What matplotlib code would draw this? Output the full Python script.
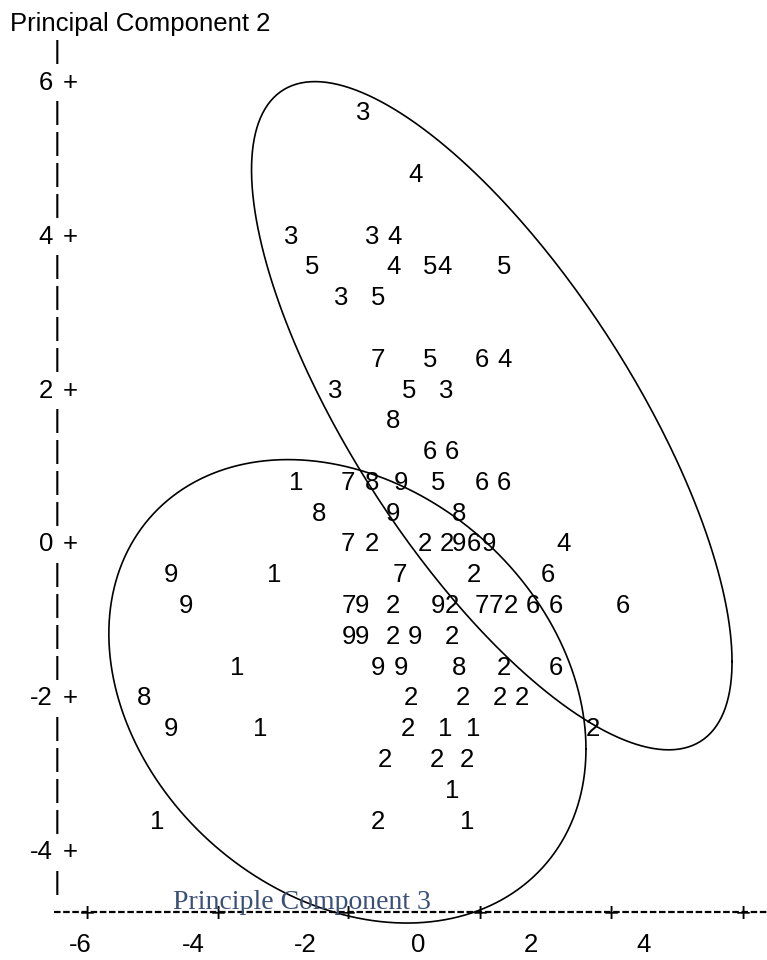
#recreate a text-style PCA score plot (PC3 vs PC2) with two cluster ellipses
import numpy as np
import matplotlib.pyplot as plt

plt.rcParams['lines.scale_dashes'] = False

cluster = ['3',
           '4',
           '3', '3', '4',
           '5', '4', '5', '4', '5',
           '3', '5',
           '7', '5', '6', '4',
           '3', '5', '3',
           '8',
           '6', '6',
           '1', '7', '8', '9', '5', '6', '6',
           '8', '9', '8',
           '7', '2', '2', '2', '9', '6', '9', '4',
           '9', '1', '7', '2', '6',
           '9', '7', '9', '2', '9', '2', '7', '7', '2', '6', '6', '6',
           '9', '9', '2', '9', '2',
           '1', '9', '9', '8', '2', '6',
           '8', '2', '2', '2', '2',
           '9', '1', '2', '1', '1', '2',
           '2', '2', '2',
           '1',
           '1', '2', '1']
pc3 = [-0.98,
       -0.06,
       -2.26, -0.82, -0.43,
       -1.89, -0.45, 0.21, 0.47, 1.52,
       -1.37, -0.72,
       -0.72, 0.21, 1.13, 1.52,
       -1.48, -0.17, 0.49,
       -0.45,
       0.21, 0.60,
       -2.16, -1.25, -0.82, -0.31, 0.35, 1.13, 1.52,
       -1.76, -0.45, 0.72,
       -1.25, -0.82, 0.12, 0.51, 0.72, 0.99, 1.25, 2.58,
       -4.39, -2.56, -0.33, 0.99, 2.30,
       -4.12, -1.23, -1.00, -0.45, 0.35, 0.60, 1.13, 1.38, 1.64, 2.03, 2.44, 3.63,
       -1.23, -1.00, -0.45, -0.06, 0.60,
       -3.22, -0.72, -0.31, 0.72, 1.52, 2.44,
       -4.87, -0.13, 0.79, 1.45, 1.84,
       -4.39, -2.81, -0.18, 0.47, 0.97, 3.10,
       -0.59, 0.33, 0.86,
       0.60,
       -4.64, -0.72, 0.86]
pc2 = [5.6,
       4.8,
       4.0, 4.0, 4.0,
       3.6, 3.6, 3.6, 3.6, 3.6,
       3.2, 3.2,
       2.4, 2.4, 2.4, 2.4,
       2.0, 2.0, 2.0,
       1.6,
       1.2, 1.2,
       0.8, 0.8, 0.8, 0.8, 0.8, 0.8, 0.8,
       0.4, 0.4, 0.4,
       0.0, 0.0, 0.0, 0.0, 0.0, 0.0, 0.0, 0.0,
       -0.4, -0.4, -0.4, -0.4, -0.4,
       -0.8, -0.8, -0.8, -0.8, -0.8, -0.8, -0.8, -0.8, -0.8, -0.8, -0.8, -0.8,
       -1.2, -1.2, -1.2, -1.2, -1.2,
       -1.6, -1.6, -1.6, -1.6, -1.6, -1.6,
       -2.0, -2.0, -2.0, -2.0, -2.0,
       -2.4, -2.4, -2.4, -2.4, -2.4, -2.4,
       -2.8, -2.8, -2.8,
       -3.2,
       -3.6, -3.6, -3.6]

#the two group ellipses: centre, spread along each axis and correlation
ell_cx = [1.30, -1.26]
ell_cy = [1.64, -1.94]
ell_sx = [4.26, 4.23]
ell_sy = [4.34, 3.01]
ell_rho = [-0.736, -0.249]

#axis annotations
y_ticks = [6, 4, 2, 0, -2, -4]
x_tick_labels = [-6, -4, -2, 0, 2, 4]
x_plus_marks = [-5.88, -3.55, -1.25, 1.09, 3.41, 5.76]

font = 'Liberation Sans'
fs = 18.5

fig = plt.figure(figsize=(7.67, 9.6), dpi=100)
ax = fig.add_axes([0, 0, 1, 1])
ax.set_xlim(-7.42, 6.18)
ax.set_ylim(-5.43, 7.04)
ax.axis('off')

#observations as their cluster numbers
for lab, x, y in zip(cluster, pc3, pc2):
    ax.text(x, y, lab, fontsize=fs, family=font, ha='center', va='center_baseline')

#ellipses
t = np.linspace(0, 2 * np.pi, 400)
for cx, cy, sx, sy, r in zip(ell_cx, ell_cy, ell_sx, ell_sy, ell_rho):
    cov = np.array([[sx * sx, r * sx * sy], [r * sx * sy, sy * sy]])
    L = np.linalg.cholesky(cov)
    pts = L @ np.vstack([np.cos(t), np.sin(t)])
    ax.plot(cx + pts[0], cy + pts[1], color='black', lw=1.2)

#vertical axis built from text rows like the original printout
for i in range(-11, 17):
    v = i * 0.4
    if i % 5 == 0:
        ax.text(-6.48, v, f"{int(round(v))}", fontsize=fs, family=font, ha='right', va='center_baseline')
        ax.text(-6.18, v, "+", fontsize=fs, family=font, ha='center', va='center_baseline')
    else:
        ax.text(-6.41, v, "|", fontsize=fs, family=font, ha='center', va='center_baseline')
ax.text(-7.24, 6.76, "Principal Component 2", fontsize=fs, family=font, ha='left', va='center_baseline')

#horizontal axis: dashed line with plus marks
ax.plot([-6.46, 6.3], [-4.805, -4.805], color='black', lw=1.6, dashes=(4.7, 1.9))
for x in x_plus_marks:
    ax.text(x, -4.805, "+", fontsize=fs, family=font, ha='center', va='center_baseline')
for x in x_tick_labels:
    ax.text(x, -5.2, f"{x}", fontsize=fs, family=font, ha='center', va='center_baseline')
ax.text(-4.35, -4.65, "Principle Component 3", fontsize=20, family='Liberation Serif',
        color='#3b5077', ha='left', va='center_baseline')

fig.savefig('out.png', dpi=100)
